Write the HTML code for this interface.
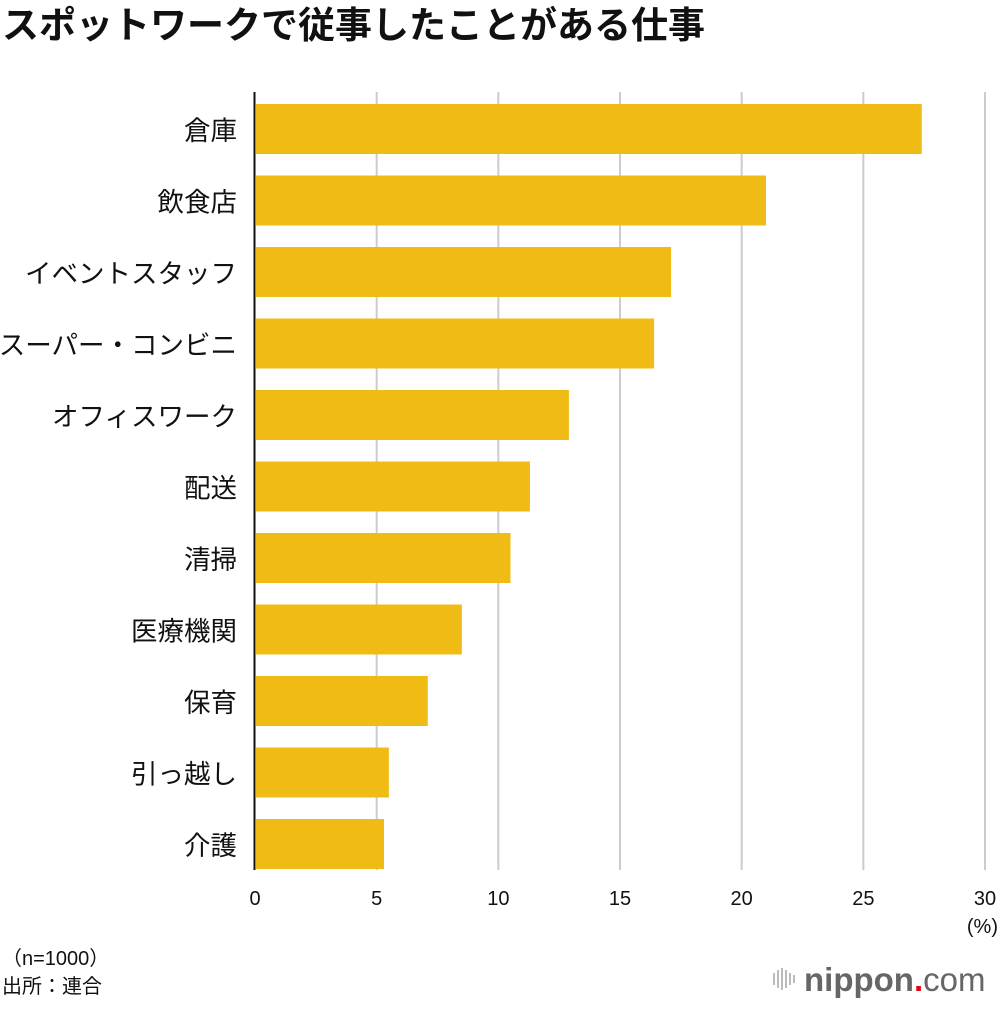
<!DOCTYPE html>
<html><head><meta charset="utf-8"><style>
body{margin:0;background:#fff;width:1000px;height:1006px;overflow:hidden;font-family:"Liberation Sans","Noto Sans CJK JP",sans-serif}
</style></head><body>
<svg id="c" width="1000" height="1006" xmlns="http://www.w3.org/2000/svg" style="font-family:'Liberation Sans','Noto Sans CJK JP',sans-serif">
<text x="2" y="38" font-size="37" font-weight="bold" fill="#111">スポットワークで従事したことがある仕事</text>
<g id="grid"></g><g id="bars"></g><g id="labels"></g><g id="ticks"></g>
<line x1="254.5" y1="92" x2="254.5" y2="870" stroke="#111" stroke-width="2"/>
<text x="998" y="933" font-size="20" text-anchor="end" fill="#111">(%)</text>
<text x="2" y="965" font-size="20" fill="#111">（n=1000）</text>
<text x="2" y="993" font-size="20" fill="#111">出所：連合</text>
<g>
<g fill="#bbb"><rect x="773" y="973" width="2" height="12"/><rect x="777" y="970" width="2" height="18"/><rect x="781" y="968" width="2" height="22"/><rect x="785" y="970" width="2" height="18"/><rect x="789" y="973" width="2" height="12"/><rect x="793" y="975" width="2" height="8"/></g>
<text x="804" y="991" font-size="33" fill="#666" font-weight="bold">nippon<tspan fill="#e60012">.</tspan><tspan font-weight="normal">com</tspan></text>
</g>
</svg>
<script>
const categories=["倉庫","飲食店","イベントスタッフ","スーパー・コンビニ","オフィスワーク","配送","清掃","医療機関","保育","引っ越し","介護"];
const values=[27.4,21.0,17.1,16.4,12.9,11.3,10.5,8.5,7.1,5.5,5.3];
const tickValues=[0,5,10,15,20,25,30];
const tickLabels=["0","5","10","15","20","25","30"];
const NS="http://www.w3.org/2000/svg";
const x0=255,xMax=30,pxW=730,top0=104,step=71.5,bh=50;
const xs=v=>x0+v/xMax*pxW;
const ys=i=>top0+i*step;
function mk(t,a,p){const e=document.createElementNS(NS,t);for(const k in a)e.setAttribute(k,a[k]);document.getElementById(p).appendChild(e);return e;}
tickValues.forEach((v,i)=>{
 if(v>0){const l=mk("line",{x1:xs(v),x2:xs(v),y1:92,y2:870,stroke:"#ccc","stroke-width":2},"grid");
 
 }
 const t=mk("text",{x:xs(v),y:905,"font-size":20,"text-anchor":"middle",fill:"#111"},"ticks");
 t.textContent=tickLabels[i];
 
 
});
categories.forEach((c,i)=>{
 const r=mk("rect",{x:x0+1,y:ys(i),width:xs(values[i])-x0-1,height:bh,fill:"#f0bb15"},"bars");
 
 
 const t=mk("text",{x:237,y:ys(i)+bh/2+11,"font-size":26.5,"text-anchor":"end",fill:"#111"},"labels");
 t.textContent=c;
 
 
});
</script>
</body></html>
